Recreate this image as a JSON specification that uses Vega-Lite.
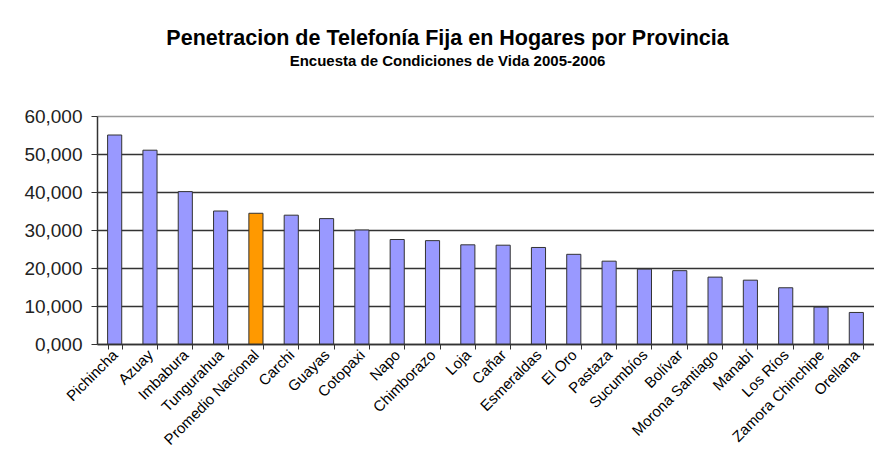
{
  "$schema": "https://vega.github.io/schema/vega-lite/v6.json",
  "width": 777,
  "height": 228,
  "autosize": {"type": "none"},
  "padding": {"left": 97, "top": 116, "right": 0, "bottom": 108},
  "background": "white",
  "title": {
    "text": "Penetracion de Telefonía Fija en Hogares por Provincia",
    "subtitle": "Encuesta de Condiciones de Vida 2005-2006",
    "font": "Liberation Sans",
    "fontSize": 21.5,
    "fontWeight": "bold",
    "color": "#000000",
    "subtitleFont": "Liberation Sans",
    "subtitleFontSize": 15,
    "subtitleFontWeight": "bold",
    "subtitleColor": "#000000",
    "subtitlePadding": 5,
    "anchor": "middle",
    "dx": -38,
    "offset": 38
  },
  "data": {
    "values": [
      {"provincia": "Pichincha", "valor": 55.0, "tipo": "prov"},
      {"provincia": "Azuay", "valor": 51.0, "tipo": "prov"},
      {"provincia": "Imbabura", "valor": 40.1, "tipo": "prov"},
      {"provincia": "Tungurahua", "valor": 35.0, "tipo": "prov"},
      {"provincia": "Promedio Nacional", "valor": 34.4, "tipo": "nac"},
      {"provincia": "Carchi", "valor": 33.9, "tipo": "prov"},
      {"provincia": "Guayas", "valor": 33.0, "tipo": "prov"},
      {"provincia": "Cotopaxi", "valor": 30.0, "tipo": "prov"},
      {"provincia": "Napo", "valor": 27.5, "tipo": "prov"},
      {"provincia": "Chimborazo", "valor": 27.2, "tipo": "prov"},
      {"provincia": "Loja", "valor": 26.1, "tipo": "prov"},
      {"provincia": "Cañar", "valor": 26.0, "tipo": "prov"},
      {"provincia": "Esmeraldas", "valor": 25.4, "tipo": "prov"},
      {"provincia": "El Oro", "valor": 23.6, "tipo": "prov"},
      {"provincia": "Pastaza", "valor": 21.8, "tipo": "prov"},
      {"provincia": "Sucumbíos", "valor": 19.7, "tipo": "prov"},
      {"provincia": "Bolívar", "valor": 19.3, "tipo": "prov"},
      {"provincia": "Morona Santiago", "valor": 17.6, "tipo": "prov"},
      {"provincia": "Manabí", "valor": 16.8, "tipo": "prov"},
      {"provincia": "Los Ríos", "valor": 14.8, "tipo": "prov"},
      {"provincia": "Zamora Chinchipe", "valor": 9.7, "tipo": "prov"},
      {"provincia": "Orellana", "valor": 8.3, "tipo": "prov"}
    ]
  },
  "mark": {"type": "bar", "stroke": "#333333", "strokeWidth": 1},
  "encoding": {
    "x": {
      "field": "provincia",
      "type": "nominal",
      "sort": null,
      "scale": {"paddingInner": 0.6, "paddingOuter": 0.3},
      "axis": {
        "title": null,
        "labelAngle": -45,
        "labelAlign": "right",
        "labelBaseline": "middle",
        "labelFont": "Liberation Sans",
        "labelFontSize": 15,
        "labelColor": "#000000",
        "labelPadding": 3,
        "labelLimit": 150,
        "tickBand": "extent",
        "ticks": true,
        "tickSize": 5,
        "tickColor": "#333333",
        "domainColor": "#333333",
        "domainWidth": 1.5,
        "grid": false
      }
    },
    "y": {
      "field": "valor",
      "type": "quantitative",
      "scale": {"domain": [0, 60], "nice": false},
      "axis": {
        "title": null,
        "values": [0, 10, 20, 30, 40, 50, 60],
        "labelExpr": "format(datum.value, 'd') + ',000'",
        "labelFont": "Liberation Sans",
        "labelFontSize": 19,
        "labelColor": "#222222",
        "labelPadding": 9,
        "tickSize": 6,
        "tickColor": "#333333",
        "domainColor": "#333333",
        "domainWidth": 1.5,
        "grid": true,
        "gridColor": {"condition": {"test": "datum.value === 60", "value": "#999999"}, "value": "#333333"},
        "gridWidth": 1.5
      }
    },
    "fill": {
      "field": "tipo",
      "type": "nominal",
      "scale": {"domain": ["prov", "nac"], "range": ["#9999FF", "#FF9900"]},
      "legend": null
    }
  },
  "config": {"view": {"stroke": null}}
}
